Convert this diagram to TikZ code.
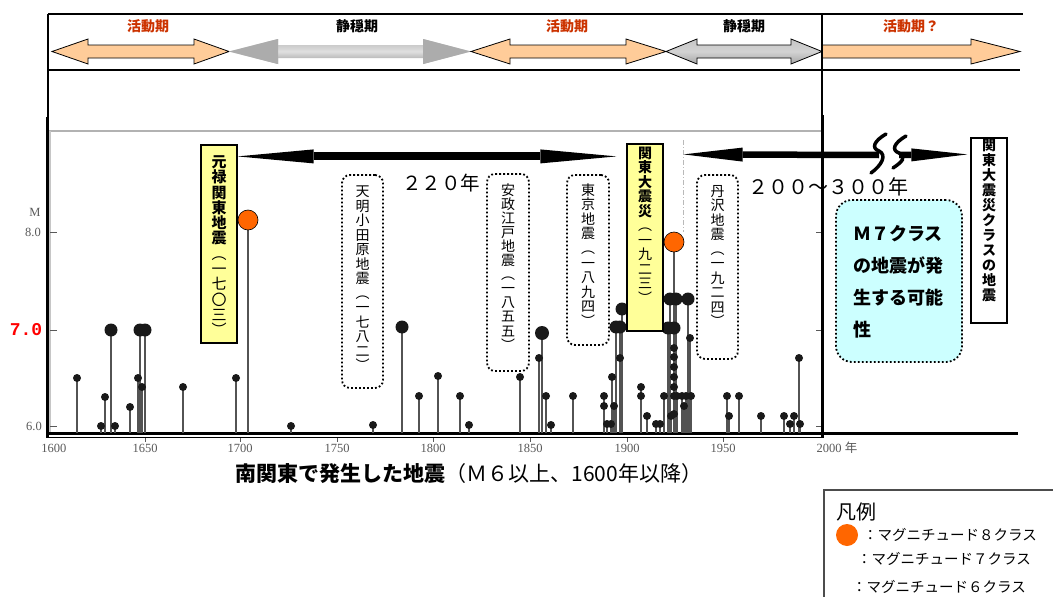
\documentclass[tikz,border=0pt]{standalone}
\usepackage{fontspec}
\setmainfont{Liberation Serif}
\newfontfamily\cjk{Noto Sans CJK JP}
\newfontfamily\redmono{Liberation Mono}
\usetikzlibrary{arrows.meta,calc}
\definecolor{orng}{HTML}{FFCC99}
\definecolor{actred}{HTML}{CC3300}
\definecolor{dotorange}{HTML}{FF6600}
\definecolor{ybg}{HTML}{FFFF99}
\definecolor{cbg}{HTML}{CCFFFF}
\newcommand\bandarrow[5]{\path[#5] (#1,51.5) -- ({#1+#3},39) -- ({#1+#3},45) -- ({#2-#4},45) -- ({#2-#4},39) -- (#2,51.5) -- ({#2-#4},64) -- ({#2-#4},58) -- ({#1+#3},58) -- ({#1+#3},64) -- cycle;}
\newcommand\fixskip{\lineskiplimit=-100pt\lineskip=0pt\relax}
\def\quakes{77/378/4, 101/426/4, 105/397/4, 111/330/6.5, 115/426/4, 130/407/4, 138/378/4, 140/330/6.5, 145/330/6.5, 142/387/4, 183/387/4, 236/378/4, 291/426/4, 373/425/4, 402/327/6.5, 419/396/4, 438/376/4, 460/396/4, 469/425/4, 520/377/4, 539/358/4, 542/333/7, 546/396/4, 551/425/4, 573/396/4, 604/396/4, 604/406/4, 607/424/4, 611/424/4, 612/377/4, 614/406/4, 616/327/6.5, 620/327/6.5, 620/358/4, 622/309/6.5, 641/387/4, 641/396/4, 647/416/4, 656/424/4, 660/424/4, 664/396/4, 671/416/4, 670/299/6.5, 676/299/6.5, 668/328/6.5, 674/328/6.5, 674/348/4, 674/357/4, 674/367/4, 674/377/4, 674/387/4, 674/396/4, 674/414/4, 677/396/4, 682/396/4, 686/396/4, 684/406/4, 688/299/6.5, 690/338/4, 691/396/4, 727/396/4, 729/416/4, 739/396/4, 761/416/4, 784/416/4, 790/424/4, 794/416/4, 799/358/4, 800/424/4}
\tikzset{
  bandline/.style={line width=2.5pt, black},
  period/.style={font=\cjk\bfseries\fontsize{14}{16}\selectfont, inner sep=0pt},
  ybox/.style={draw=black, line width=1.2pt, fill=ybg, inner sep=0pt},
  dbox/.style={draw=black, line width=1.8pt, dash pattern=on 1.8pt off 2.2pt, rounded corners=8pt, inner sep=0pt},
  wbox/.style={draw=black, line width=1.2pt, fill=white, inner sep=0pt},
  cbox/.style={draw=black, line width=1.8pt, dash pattern=on 1.8pt off 2.2pt, rounded corners=16pt, fill=cbg, inner sep=0pt},
  vt/.style={text width=20pt, align=center, inner sep=0pt, anchor=north},
  quakestem/.style={line width=1.4pt, gray!65!black},
  qdot/.style={fill=black!90},
  bigdot/.style={circle, fill=dotorange, draw=black, line width=0.6pt, minimum size=20pt, inner sep=0pt},
  yr/.style={font=\fontsize{12.5}{13}\selectfont, text=gray!70!black, inner sep=0pt},
  legtxt/.style={anchor=west, inner sep=0pt, font=\cjk\fontsize{14.5}{16}\selectfont},
  bigarr/.style={line width=8pt, {Triangle[length=76pt,width=14pt,line width=0pt]}-{Triangle[length=76pt,width=14pt,line width=0pt]}},
  arrtwo/.style={line width=6.5pt},
  breakmark/.style={line width=3.5pt, line cap=round}
}
\begin{document}
\begin{tikzpicture}[x=1pt,y=-1pt]
\useasboundingbox (0,0) rectangle (1053,597);
\clip (0,0) rectangle (1053,597);
\fill[white] (0,0) rectangle (1053,597);

% ---- top band ----
\bandarrow{52}{229}{36}{35}{draw=black, line width=0.8pt, fill=orng}
\bandarrow{229}{471}{49}{48}{top color=gray!55, bottom color=gray!80, middle color=gray!25}
\path[fill=gray!65] (229,51.5) -- (278,39) -- (278,64) -- cycle;
\path[fill=gray!65] (471,51.5) -- (423,39) -- (423,64) -- cycle;
\bandarrow{471}{666}{39}{40}{draw=black, line width=0.8pt, fill=orng}
\bandarrow{666}{822}{31}{31}{draw=black, line width=0.8pt, top color=gray!45, bottom color=gray!70, middle color=gray!35}
\path[draw=black, line width=0.8pt, fill=orng] (822,45) -- (971,45) -- (971,39) -- (1020,51.5) -- (971,64) -- (971,58) -- (822,58) -- cycle;
\draw[bandline] (48,14) -- (1023,14);
\draw[bandline] (48,70) -- (1020,70);
\node[period, text=actred] (act1) at (148,26) {活動期};
\node[period] (calm1) at (357,26) {静穏期};
\node[period, text=actred] (act2) at (567,26) {活動期};
\node[period] (calm2) at (744,26) {静穏期};
\node[period, text=actred] (act3) at (911,26) {活動期？};

% ---- frame ----
\draw[line width=1.5pt] (48,14) -- (48,117);
\draw[line width=3pt] (47,117) -- (47,438);
\draw[line width=1.5pt] (822,14) -- (822,115);
\draw[line width=3pt] (822,115) -- (822,438);
\draw[line width=2pt, gray!60] (49,131) -- (821,131);
\draw[line width=1.2pt, gray!45] (50,131) -- (50,433);
\draw[line width=3pt] (47,433) -- (1018,433);
\draw[line width=1.3pt] (47,437.5) -- (822,437.5);
\foreach \y in {232,330,426} {\draw[gray!70!black, line width=1pt] (50,\y) -- (57,\y); \draw[gray!70!black, line width=1pt] (816,\y) -- (821,\y);}
\foreach \x in {145,240,337,433,530,627,723} {\draw[gray!70!black, line width=0.8pt] (\x,438) -- (\x,442);}

% ---- axis labels ----
\node[yr] (mlab) at (35,212) {M};
\node[yr] (m8) at (33,232) {8.0};
\node[inner sep=0pt, text=red, font=\redmono\bfseries\fontsize{18}{20}\selectfont] (m7) at (26,330) {7.0};
\node[yr] (m6) at (34,426) {6.0};
\node[yr] (y1600) at (54,448) {1600};
\node[yr] (y1650) at (145,448) {1650};
\node[yr] (y1700) at (240,448) {1700};
\node[yr] (y1750) at (337,448) {1750};
\node[yr] (y1800) at (433,448) {1800};
\node[yr] (y1850) at (530,448) {1850};
\node[yr] (y1900) at (627,448) {1900};
\node[yr] (y1950) at (723,448) {1950};
\node[yr] (y2000) at (837,448) {2000 \cjk 年};

% ---- earthquakes ----
\foreach \x/\y/\r in \quakes {\draw[quakestem] (\x,\y) -- (\x,433);}
\draw[quakestem] (248,220) -- (248,433);
\draw[quakestem] (674,242) -- (674,433);
\foreach \x/\y/\r in \quakes {\fill[qdot] (\x,\y) circle[radius=\r pt];}
\node[bigdot] (q1703) at (248,220) {};
\node[bigdot] (q1923) at (674,242) {};
\draw[gray!55, line width=0.8pt, dash pattern=on 5pt off 2pt on 1pt off 2pt] (683,140) -- (683,232);

% ---- labelled boxes ----
\node[ybox, minimum width=36pt, minimum height=198pt] (genroku) at (219,244) {};
\node[vt, font=\cjk\fontsize{15}{15.3}\selectfont\fixskip] (genrokuT) at ([yshift=-11pt]genroku.north)
  {\bfseries 元\\禄\\関\\東\\地\\震\\\mdseries ︵\\一\\七\\〇\\三\\︶};
\node[dbox, minimum width=41pt, minimum height=213pt] (tenmei) at (362.5,281.5) {};
\node[vt, font=\cjk\fontsize{14}{14.5}\selectfont\fixskip] (tenmeiT) at ([yshift=-12pt]tenmei.north)
  {天\\明\\小\\田\\原\\地\\震\\︵\\一\\七\\八\\二\\︶};
\node[dbox, minimum width=42pt, minimum height=197pt] (ansei) at (508,272.5) {};
\node[vt, font=\cjk\fontsize{14}{14.1}\selectfont\fixskip] (anseiT) at ([yshift=-10pt]ansei.north)
  {安\\政\\江\\戸\\地\\震\\︵\\一\\八\\五\\五\\︶};
\node[dbox, minimum width=42pt, minimum height=170pt] (tokyo) at (588,260) {};
\node[vt, font=\cjk\fontsize{14}{14.6}\selectfont\fixskip] (tokyoT) at ([yshift=-9pt]tokyo.north)
  {東\\京\\地\\震\\︵\\一\\八\\九\\四\\︶};
\node[ybox, minimum width=36pt, minimum height=187pt] (kanto) at (645,237.5) {};
\node[vt, font=\cjk\fontsize{14}{14.5}\selectfont\fixskip] (kantoT) at ([yshift=-3pt]kanto.north)
  {\bfseries 関\\東\\大\\震\\災\\\mdseries ︵\\一\\九\\二\\三\\︶};
\node[dbox, minimum width=41pt, minimum height=184pt] (tanzawa) at (717.5,267) {};
\node[vt, font=\cjk\fontsize{14}{14.5}\selectfont\fixskip] (tanzawaT) at ([yshift=-11pt]tanzawa.north)
  {丹\\沢\\地\\震\\︵\\一\\九\\二\\四\\︶};
\node[wbox, minimum width=36pt, minimum height=185pt] (quake) at (989,230.5) {};
\node[vt, font=\cjk\bfseries\fontsize{14}{15}\selectfont\fixskip] (quakeT) at ([yshift=-1pt]quake.north)
  {関\\東\\大\\震\\災\\ク\\ラ\\ス\\の\\地\\震};
\node[cbox, minimum width=126pt, minimum height=162pt] (m7box) at (899,281) {};
\node[anchor=north west, inner sep=0pt, text width=110pt, align=left, font=\cjk\bfseries\fontsize{18}{32}\selectfont\fixskip] (m7T) at (853,225)
  {Ｍ７クラス\\の地震が発\\生する可能\\性};

% ---- interval arrows ----
\draw[bigarr] ($(genroku.north east)+(0,12)$) -- ($(kanto.north west)+(-10,13)$);
\node[inner sep=0pt, font=\cjk\fontsize{19.5}{21}\selectfont] (t220) at (441,183) {２２０年};
\coordinate (tL) at ($(kanto.north east)+(20,11)$);
\coordinate (bL) at (879,155);
\coordinate (bR) at (899,155);
\draw[arrtwo, {Triangle[length=59pt,width=14pt,line width=0pt]}-] (tL) -- (bL);
\draw[arrtwo, -{Triangle[length=56pt,width=13pt,line width=0pt]}] (bR) -- ($(quake.north west)+(-3,17)$);
\draw[breakmark] (886,134) .. controls (874,141) and (871,148) .. (879,151) .. controls (887,155) and (882,165) .. (871,173);
\draw[breakmark] (906,136) .. controls (894,143) and (891,150) .. (899,153) .. controls (907,157) and (902,162) .. (893,168);
\node[inner sep=0pt, font=\cjk\fontsize{20}{22}\selectfont] (t200) at (828,187) {２００～３００年};

% ---- title ----
\node[inner sep=0pt, font=\cjk\fontsize{21}{23}\selectfont] (title) at (469,474) {\textbf{南関東で発生した地震}（Ｍ６以上、1600年以降）};

% ---- legend ----
\draw[line width=1.5pt, gray!60!black] (824,610) -- (824,490) -- (1060,490) -- (1060,610);
\node[anchor=west, inner sep=0pt, font=\cjk\fontsize{20}{22}\selectfont] (legT) at (836,512) {凡例};
\node[circle, fill=dotorange, minimum size=22pt, inner sep=0pt] (leg8dot) at (847,535) {};
\node[legtxt] (leg8) at (863,535) {：マグニチュード８クラス};
\node[legtxt] (leg7) at (857,559) {：マグニチュード７クラス};
\node[legtxt] (leg6) at (852,587) {：マグニチュード６クラス};
\end{tikzpicture}
\end{document}
